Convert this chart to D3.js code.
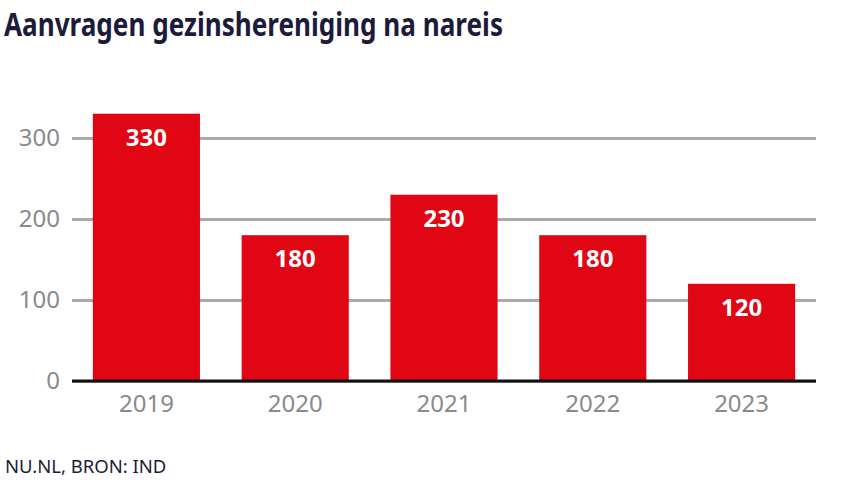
<!DOCTYPE html>
<html><head><meta charset="utf-8">
<script src="https://cdn.jsdelivr.net/npm/d3@7"></script>
<style>body{margin:0;background:#fff}svg{display:block}</style>
</head><body>
<script>
const title = "Aanvragen gezinshereniging na nareis";
const source = "NU.NL, BRON: IND";
const years = ["2019","2020","2021","2022","2023"];
const values = [330,180,230,180,120];
const yTicks = [0,100,200,300];

const W = 854, H = 480;
const svg = d3.select("body").append("svg").attr("width",W).attr("height",H);
const font = "'Noto Sans', 'Open Sans', sans-serif";

const x = d3.scaleBand().domain(years).range([72,816]).paddingInner(0.28).paddingOuter(0.14);
const y = d3.scaleLinear().domain([0,100]).range([381,300]);

// title
svg.append("text").attr("x",4).attr("y",36).text(title)
  .attr("font-family",font).attr("font-weight",700).attr("font-size",32)
  .attr("fill","#1c1c3a").attr("textLength",499).attr("lengthAdjust","spacingAndGlyphs");

// grid
const yAxis = d3.axisLeft(y).tickValues(yTicks).tickSize(-(816-72)).tickPadding(12);
const gy = svg.append("g").attr("transform","translate(72,0)").call(yAxis);
gy.select(".domain").remove();
gy.selectAll(".tick line").attr("stroke","#aaaaaa").attr("stroke-width",3);
gy.selectAll(".tick text").attr("font-family",font).attr("font-size",24).attr("fill","#8a8a8a").attr("x",-12);

// bars
svg.append("g").selectAll("rect").data(years).join("rect")
  .attr("x",d=>x(d)).attr("width",x.bandwidth())
  .attr("y",(d,i)=>y(values[i])).attr("height",(d,i)=>y(0)-y(values[i]))
  .attr("fill","#e10614");

// value labels
svg.append("g").selectAll("text").data(years).join("text")
  .attr("x",d=>x(d)+x.bandwidth()/2).attr("y",(d,i)=>y(values[i])+32)
  .attr("text-anchor","middle").attr("font-family",font).attr("font-weight",700)
  .attr("font-size",24).attr("fill","#fff").text((d,i)=>values[i]);

// baseline
svg.append("line").attr("x1",72).attr("x2",816).attr("y1",y(0)).attr("y2",y(0))
  .attr("stroke","#111").attr("stroke-width",3);

// x axis labels
const xAxis = d3.axisBottom(x).tickSize(0).tickPadding(14);
const gx = svg.append("g").attr("transform",`translate(0,${y(0)})`).call(xAxis);
gx.select(".domain").remove();
gx.selectAll(".tick text").attr("font-family",font).attr("font-size",24).attr("fill","#8a8a8a");

// source
svg.append("text").attr("x",5).attr("y",473).text(source)
  .attr("font-family",font).attr("font-size",18.5).attr("fill","#1c1c3a");
</script>
</body></html>
